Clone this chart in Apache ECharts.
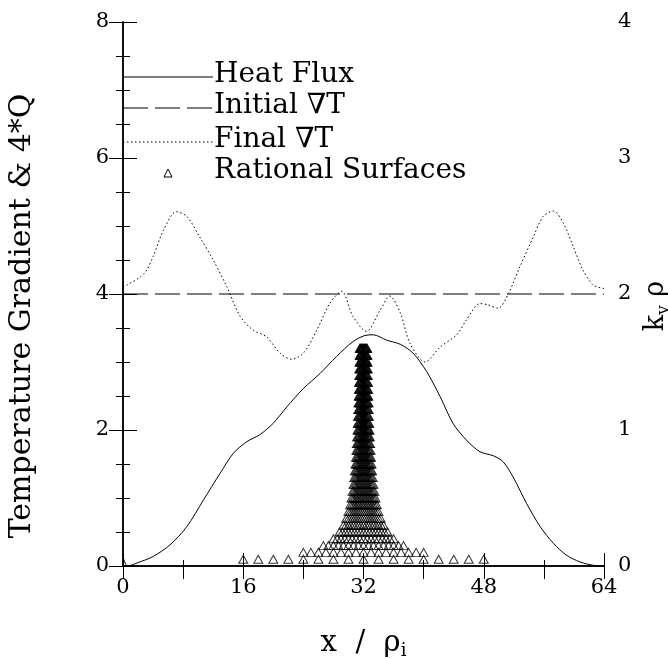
<!DOCTYPE html>
<html>
<head>
<meta charset="utf-8">
<script src="https://cdn.jsdelivr.net/npm/echarts@6/dist/echarts.min.js"></script>
<style>html,body{margin:0;padding:0;background:#fff;overflow:hidden;}#c{width:668px;height:659px;}</style>
</head>
<body>
<div id="c"></div>
<script>
// ---- data ----
var fluxX = [0, 0.6, 2, 4, 6.25, 8.5, 10.7, 12.9, 14.7, 16.5, 18.2, 20, 21.8, 24, 26.2, 28.4, 30.6, 32.2, 33.3, 35.1, 36.9, 38.6, 40.4, 42.2, 43.9, 45.7, 47.5, 49.3, 50.6, 51.9, 53.7, 55.5, 57.3, 59.0, 60.8, 62.6, 64];
var fluxY = [0.14, 0.0, 0.05, 0.14, 0.31, 0.58, 0.97, 1.36, 1.66, 1.83, 1.93, 2.10, 2.34, 2.61, 2.83, 3.08, 3.30, 3.39, 3.40, 3.32, 3.26, 3.13, 2.86, 2.49, 2.10, 1.85, 1.68, 1.62, 1.53, 1.31, 0.92, 0.58, 0.33, 0.16, 0.06, 0.01, 0];
var initX = [0, 64];
var initY = [4, 4];
var finalX = [0, 0.5, 2.3, 3.15, 4, 5.4, 7.1, 8.5, 10.2, 12, 13.8, 15.6, 17.3, 19.1, 20.9, 22.4, 24, 25.8, 27.5, 29.1, 30.6, 32.4, 34.2, 35.5, 36.9, 38.2, 40.2, 42.2, 44.4, 45.7, 47.5, 48.6, 49.9, 51.3, 52.8, 54.6, 55.9, 57.3, 58.6, 59.9, 61.2, 62.6, 64];
var finalY = [4.10, 4.13, 4.25, 4.35, 4.55, 4.94, 5.21, 5.14, 4.84, 4.50, 4.11, 3.67, 3.47, 3.37, 3.13, 3.04, 3.13, 3.47, 3.86, 4.04, 3.67, 3.45, 3.76, 3.97, 3.72, 3.27, 3.00, 3.22, 3.40, 3.62, 3.86, 3.84, 3.79, 4.01, 4.40, 4.84, 5.14, 5.22, 5.04, 4.70, 4.35, 4.13, 4.08];
// rational surfaces: mode numbers n (k_y rho = 0.05 n), surfaces at x0 + j*dx1/n
var modeN = [1,2,3,4,5,6,7,8,9,10,11,12,13,14,15,16,17,18,19,20,21,22,23,24,25,26,27,28,29,30,31,32];
var kyMin = 0.05;
var surfaceIndex = [-8,-7,-6,-5,-4,-3,-2,-1,0,1,2,3,4,5,6,7,8];
var surfaceCenter = 32;
var surfaceSpacing1 = 2;
var xTicks = [0, 16, 32, 48, 64];

function zip(a, b) { return a.map(function (v, i) { return [v, b[i]]; }); }
var rational = [];
modeN.forEach(function (n) {
  surfaceIndex.forEach(function (j) {
    rational.push([surfaceCenter + j * surfaceSpacing1 / n, kyMin * n]);
  });
});

var FONT = 'DejaVu Serif';
var chart = echarts.init(document.getElementById('c'), null, {renderer: 'canvas'});
var axisLine = {show: true, lineStyle: {color: '#000', width: 1.5}};
chart.setOption({
  animation: false,
  backgroundColor: '#fff',
  grid: {left: 123, right: 64, top: 22, bottom: 93, containLabel: false, outerBoundsMode: 'none'},
  xAxis: [{
    type: 'value', position: 'bottom', min: 0, max: 64, interval: 16,
    axisLine: axisLine,
    axisTick: {inside: true, length: 13, lineStyle: {color: '#000', width: 1}},
    minorTick: {show: true, splitNumber: 2, length: 6, lineStyle: {color: '#000', width: 1}},
    splitLine: {show: false},
    axisLabel: {color: '#000', fontFamily: FONT, fontSize: 21, margin: 11,
      formatter: function (v) { return xTicks.indexOf(v) >= 0 ? String(v) : ''; }},
    name: '{n|x  /  ρ}{s|i}', nameLocation: 'middle', nameGap: 60,
    nameTextStyle: {rich: {
      n: {fontFamily: FONT, fontSize: 29, color: '#000', lineHeight: 34},
      s: {fontFamily: FONT, fontSize: 18, color: '#000', verticalAlign: 'bottom', lineHeight: 14}
    }}
  }, {
    type: 'value', position: 'top', min: 0, max: 64, interval: 8,
    axisLine: axisLine,
    axisTick: {inside: true, length: 13, lineStyle: {color: '#000', width: 1}},
    splitLine: {show: false}, axisLabel: {show: false}
  }],
  yAxis: [{
    type: 'value', position: 'left', min: 0, max: 8, interval: 2,
    axisLine: axisLine,
    axisTick: {inside: true, length: 14, lineStyle: {color: '#000', width: 1}},
    minorTick: {show: true, splitNumber: 4, length: 7, lineStyle: {color: '#000', width: 1}},
    splitLine: {show: false}, minorSplitLine: {show: false},
    axisLabel: {color: '#000', fontFamily: FONT, fontSize: 21, margin: 14},
    name: 'Temperature Gradient & 4*Q', nameLocation: 'middle', nameGap: 86, nameRotate: 90,
    nameTextStyle: {fontFamily: FONT, fontSize: 30, color: '#000', padding: [0, 44, 0, 0]}
  }, {
    type: 'value', position: 'right', min: 0, max: 4, interval: 1,
    axisLine: axisLine,
    axisTick: {inside: true, length: 14, lineStyle: {color: '#000', width: 1}},
    minorTick: {show: true, splitNumber: 4, length: 7, lineStyle: {color: '#000', width: 1}},
    splitLine: {show: false}, minorSplitLine: {show: false},
    axisLabel: {color: '#000', fontFamily: FONT, fontSize: 21, margin: 14},
    name: '{n|k}{s|y}{n| ρ}', nameLocation: 'middle', nameGap: 33, nameRotate: 90,
    nameTextStyle: {padding: [0, 24, 0, 0], rich: {
      n: {fontFamily: FONT, fontSize: 27, color: '#000', lineHeight: 32},
      s: {fontFamily: FONT, fontSize: 17, color: '#000', verticalAlign: 'bottom', lineHeight: 12}
    }}
  }],
  graphic: [
    {type: 'line', shape: {x1: 123, y1: 77, x2: 213, y2: 77}, style: {stroke: '#000', lineWidth: 1}},
    {type: 'text', left: 214, top: 61, style: {text: 'Heat Flux', font: '28px "DejaVu Serif"', fill: '#000'}},
    {type: 'line', shape: {x1: 123, y1: 108, x2: 213, y2: 108}, style: {stroke: '#000', lineWidth: 1, lineDash: [25, 7]}},
    {type: 'text', left: 214, top: 92, style: {text: 'Initial ∇T', font: '28px "DejaVu Serif"', fill: '#000'}},
    {type: 'line', shape: {x1: 123, y1: 142, x2: 213, y2: 142}, style: {stroke: '#000', lineWidth: 1, lineDash: [1.5, 2.5]}},
    {type: 'text', left: 214, top: 126, style: {text: 'Final ∇T', font: '28px "DejaVu Serif"', fill: '#000'}},
    {type: 'polygon', shape: {points: [[168, 169], [164, 177], [172, 177]]}, style: {fill: 'none', stroke: '#000', lineWidth: 1}},
    {type: 'text', left: 214, top: 157, style: {text: 'Rational Surfaces', font: '28px "DejaVu Serif"', fill: '#000'}}
  ],
  series: [{
    name: 'Heat Flux', type: 'line', xAxisIndex: 0, yAxisIndex: 0, data: zip(fluxX, fluxY),
    smooth: 0.3, showSymbol: false, lineStyle: {color: '#000', width: 1}
  }, {
    name: 'Initial ∇T', type: 'line', xAxisIndex: 0, yAxisIndex: 0, data: zip(initX, initY),
    showSymbol: false, lineStyle: {color: '#000', width: 1, type: [25, 7]}
  }, {
    name: 'Final ∇T', type: 'line', xAxisIndex: 0, yAxisIndex: 0, data: zip(finalX, finalY),
    smooth: 0.3, showSymbol: false, lineStyle: {color: '#000', width: 1, type: [1.5, 2.5]}
  }, {
    name: 'Rational Surfaces', type: 'scatter', xAxisIndex: 0, yAxisIndex: 1, data: rational,
    symbol: 'triangle', symbolSize: [9, 8],
    itemStyle: {color: 'rgba(0,0,0,0)', borderColor: '#000', borderWidth: 1}
  }]
});
</script>
</body>
</html>
